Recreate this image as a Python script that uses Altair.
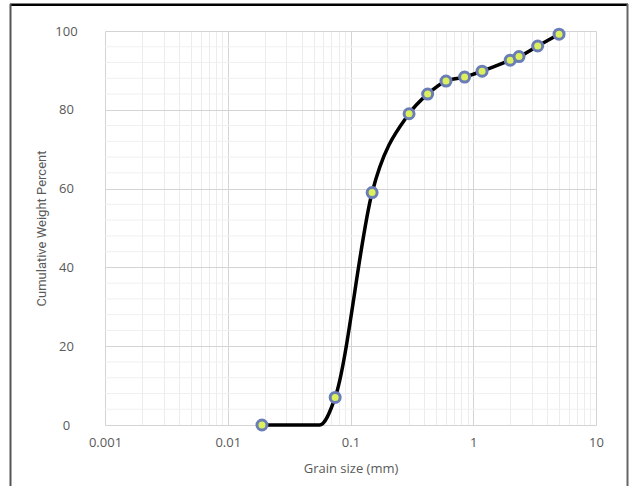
import altair as alt
import pandas as pd

# Data (grain size in mm, cumulative weight percent)
grain_size = [0.019, 0.075, 0.15, 0.3, 0.425, 0.6, 0.85, 1.18, 2.0, 2.36, 3.35, 5.0]
cum_percent = [0, 7, 59, 79, 84, 87.3, 88.3, 89.8, 92.6, 93.5, 96.2, 99.2]

# smoothed curve path (the curve stays flat to ~0.056 mm before bending up)
curve_size = [0.019, 0.056, 0.075, 0.15, 0.3, 0.425, 0.6, 0.85, 1.18, 2.0, 2.36, 3.35, 5.0]
curve_percent = [0, 0, 7, 59, 79, 84, 87.3, 88.3, 89.8, 92.6, 93.5, 96.2, 99.2]

x_ticks = [m * 10 ** e for e in range(-3, 1) for m in range(1, 10)] + [10]
y_major = [0, 20, 40, 60, 80, 100]
y_minor = [v for v in range(4, 100, 4) if v % 20 != 0]

df = pd.DataFrame({"size": grain_size, "pct": cum_percent})
curve_df = pd.DataFrame({"size": curve_size, "pct": curve_percent})
minor_df = pd.DataFrame({"pct": y_minor})

W, H = 491, 394
PAD_L, PAD_T = 105, 31

major_x = "abs(log(datum.value)/LN10 - round(log(datum.value)/LN10)) < 0.001"

x_enc = alt.X(
    "size:Q",
    scale=alt.Scale(type="log", domain=[0.001, 10], nice=False),
    axis=alt.Axis(
        values=x_ticks,
        title="Grain size (mm)",
        labelExpr=f"{major_x} ? format(datum.value, '~g') : ''",
        ticks=False,
        domain=False,
        gridColor=alt.condition(major_x, alt.value("#d4d4d4"), alt.value("#ececec")),
        gridWidth=1,
        labelPadding=11,
        titlePadding=13,
        labelFlush=False,
        labelOverlap=False,
    ),
)

y_enc = alt.Y(
    "pct:Q",
    scale=alt.Scale(domain=[0, 100], nice=False),
    axis=alt.Axis(
        values=y_major,
        title="Cumulative Weight Percent",
        ticks=False,
        domain=False,
        gridColor="#d4d4d4",
        gridWidth=1,
        labelAlign="center",
        labelPadding=39,
        titlePadding=6,
        labelOverlap=False,
    ),
)

minor_grid = alt.Chart(minor_df).mark_rule(color="#f0f0f0", strokeWidth=1).encode(
    y=alt.Y("pct:Q"), x=alt.value(0), x2=alt.value(W)
)

line = alt.Chart(curve_df).mark_line(
    color="black", strokeWidth=3.5, interpolate="monotone"
).encode(x=x_enc, y=y_enc)
points = alt.Chart(df).mark_point(
    shape="circle", filled=True, size=100, fill="#dcef5c", stroke="#6b7db5",
    strokeWidth=3, opacity=1
).encode(x="size:Q", y="pct:Q")

frame_df = pd.DataFrame({"a": [0]})
top_line = alt.Chart(frame_df).mark_rect(color="black").encode(
    x=alt.value(10 - PAD_L), x2=alt.value(628 - PAD_L),
    y=alt.value(3.5 - PAD_T), y2=alt.value(6 - PAD_T)
)
left_line = alt.Chart(frame_df).mark_rect(color="#555555").encode(
    x=alt.value(9.5 - PAD_L), x2=alt.value(11.5 - PAD_L),
    y=alt.value(4 - PAD_T), y2=alt.value(486 - PAD_T)
)
right_line = alt.Chart(frame_df).mark_rect(color="#666666").encode(
    x=alt.value(626.5 - PAD_L), x2=alt.value(628.5 - PAD_L),
    y=alt.value(4 - PAD_T), y2=alt.value(486 - PAD_T)
)

chart = alt.layer(minor_grid, line, points, top_line, left_line, right_line).properties(
    width=W, height=H,
    autosize=alt.AutoSizeParams(type="none"),
    padding={"left": PAD_L, "top": PAD_T, "right": 631 - PAD_L - W, "bottom": 486 - PAD_T - H},
).configure_view(stroke=None).configure_axis(
    labelFont="Open Sans", labelFontSize=13, labelColor="#595959",
    titleFont="Liberation Sans Narrow, Roboto", titleFontSize=13, titleColor="#595959",
    titleFontWeight="normal",
).configure_axisX(titleFont="Open Sans", titleFontSize=13)

chart.save("out.html", embed_options={"renderer": "svg", "actions": False})
